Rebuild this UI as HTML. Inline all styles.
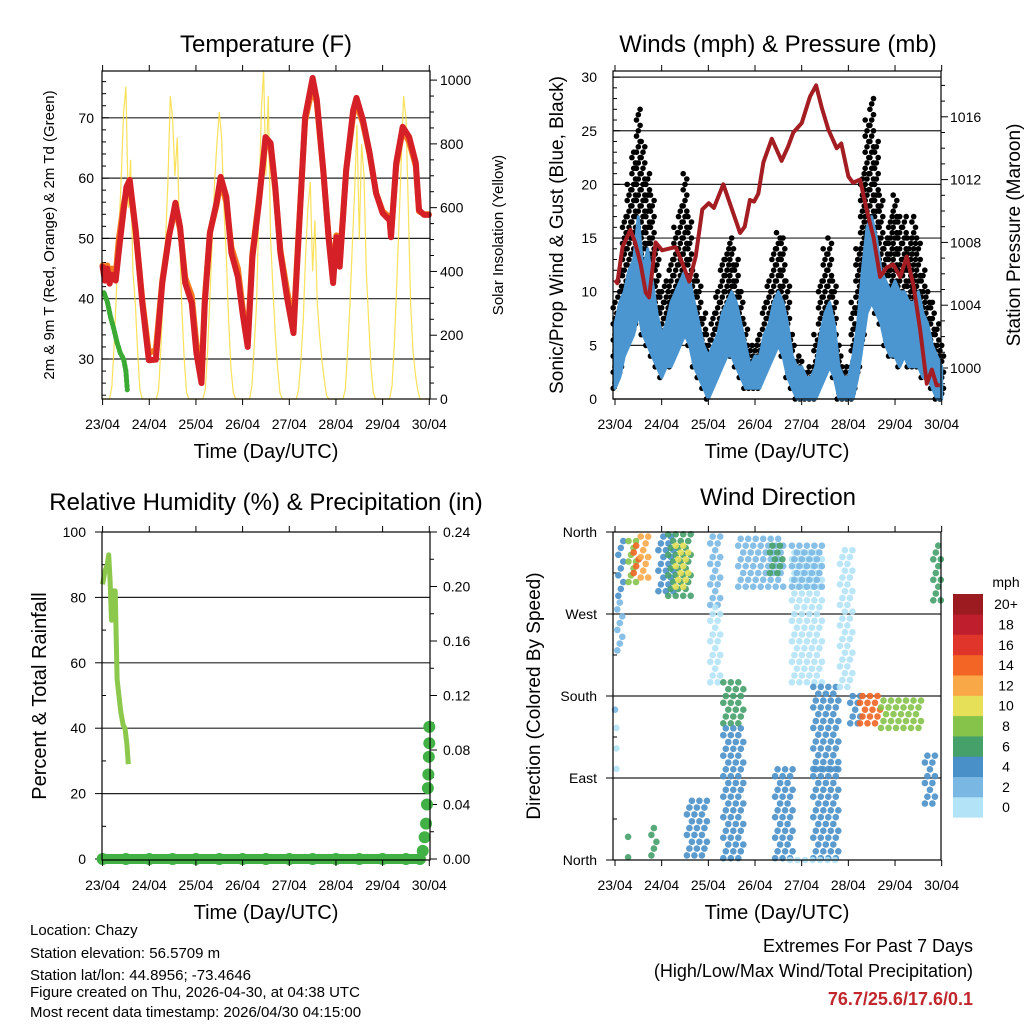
<!DOCTYPE html>
<html><head><meta charset="utf-8"><style>
html,body{margin:0;padding:0;background:#fff;}
svg{display:block;font-family:"Liberation Sans",sans-serif;}
</style></head><body>
<svg id="chart" width="1024" height="1024" viewBox="0 0 1024 1024" xmlns="http://www.w3.org/2000/svg">
<rect width="1024" height="1024" fill="#fff"/>
<g id="g1"></g>
<g id="g2"></g>
<g id="g3"></g>
<g id="g4"></g>
<g font-size="15" fill="#000">
<text x="30" y="935">Location: Chazy</text>
<text x="30" y="958">Station elevation: 56.5709 m</text>
<text x="30" y="980">Station lat/lon: 44.8956; -73.4646</text>
<text x="30" y="997">Figure created on Thu, 2026-04-30, at 04:38 UTC</text>
<text x="30" y="1017">Most recent data timestamp: 2026/04/30 04:15:00</text>
</g>
<g text-anchor="end">
<text x="973" y="952" font-size="18">Extremes For Past 7 Days</text>
<text x="973" y="977" font-size="18">(High/Low/Max Wind/Total Precipitation)</text>
<text x="973" y="1005" font-size="18" font-weight="bold" fill="#c1272d">76.7/25.6/17.6/0.1</text>
</g>
</svg>
<script>
// ---------- DATA ----------
const dayLabels = ["23/04","24/04","25/04","26/04","27/04","28/04","29/04","30/04"];
// Temperature (red, 2m T)
const tempT = [0,0.05,0.1,0.15,0.2,0.28,0.35,0.45,0.51,0.58,0.71,0.85,0.99,1.14,1.28,1.42,1.56,1.66,1.77,1.91,2.01,2.12,2.19,2.3,2.44,2.53,2.65,2.76,2.9,3.0,3.11,3.21,3.35,3.49,3.6,3.7,3.81,3.95,4.09,4.2,4.34,4.45,4.5,4.59,4.73,4.84,4.94,5.01,5.08,5.22,5.37,5.44,5.58,5.72,5.86,6.0,6.15,6.18,6.29,6.43,6.57,6.71,6.78,6.89,6.99];
const tempRed = [45.3,43,45,42.5,44,43,48,54.7,58.5,59.7,51.4,39.3,29.8,29.9,42.6,50.2,55.9,51.9,42.6,39.3,31,26,39.3,50.9,55.9,60.2,56.9,47.6,43.6,37.6,32,46.9,55.9,66.8,65.8,58.5,47.6,40.3,34.3,50.2,70.1,74.6,76.6,73,61.3,50.2,42.6,50.2,45.3,61.3,71.3,73.3,69.6,64.2,57.5,54.2,53,50.2,62.5,68.5,66.8,62.5,54.7,53.9,53.9];
const tempOrange = [45.5,43.5,45.5,43,45,44,50,55.5,58,59,51,39.8,31,31.5,43,50.5,55,51.5,43.5,40.5,32.5,27.5,40,51,55.5,59.5,56,48.5,45,38.5,33,47.5,56.5,66,65,58,48,41.5,35.5,51,69.5,73.5,75,72.5,61,50.5,44,50.5,46,61.5,70.5,72.5,69,64,57.5,54.5,53.5,50.5,62,68,66,62,54.5,54,54];
// Dew point (green)
const dewT = [0.03,0.1,0.17,0.24,0.31,0.38,0.45,0.5,0.53];
const dewVal = [41,39.5,37,35,32.7,31,30,28,24.9];
// Solar insolation (yellow), every 0.05 day
const solar = [
0,0,0,0,40,180,350,520,700,900,980,600,750,400,300,150,30,0,0,0,
0,0,0,0,30,160,330,500,680,950,880,700,820,500,280,120,20,0,0,0,
0,0,0,0,30,150,320,500,680,800,900,820,600,450,250,100,20,0,0,0,
0,0,0,0,40,170,300,600,900,1030,700,950,500,350,200,100,20,0,0,0,
0,0,0,0,30,120,250,450,600,680,400,560,300,200,120,60,10,0,0,0,
0,0,0,0,30,150,300,480,650,860,500,800,700,400,250,100,20,0,0,0,
0,0,0,0,40,170,350,550,750,950,880,600,300,150,80,30,0,0,0,0,0];
// Winds, every 0.1 day
const windLo = [1,2,4,5,6,8,6,5,4,3,2,3,3,4,5,6,5,3,2,1,0,1,2,3,4,4,3,2,1,1,1,1,2,3,4,5,4,2,1,0,0,0,0,0,1,2,3,2,0,0,0,0,2,5,8,9,8,7,5,4,4,3,4,3,3,3,2,2,1,0,0];
const windHi = [7,9,10,12,13,17,12,14,11,8,6,7,9,10,11,12,11,9,7,5,4,5,6,8,9,10,9,7,5,3,4,4,6,7,9,10,9,7,4,3,3,2,2,3,6,8,9,7,3,2,2,4,7,12,16,17,15,12,11,10,11,10,10,9,9,10,8,7,5,4,3];
const gustHi = [9,12,17,20,23,27,24,21,19,14,10,11,13,16,18,21,17,12,11,8,6,8,10,13,14,15,13,10,7,5,5,6,9,11,14,15.5,15,11,6,4,3.5,2.5,3,6,11,14,15,11,5,3,3,9,14,21,26,28,24,19,15,17,19,17,17,15,17,15,12,10,9,7,5];
// Pressure (maroon)
const presT = [0,0.05,0.16,0.33,0.43,0.55,0.66,0.73,0.87,1.01,1.15,1.3,1.44,1.59,1.73,1.87,2.01,2.12,2.32,2.46,2.68,2.78,2.89,2.98,3.07,3.18,3.36,3.57,3.71,3.82,4.0,4.18,4.31,4.43,4.57,4.75,4.85,5.0,5.1,5.25,5.39,5.54,5.68,5.82,5.96,6.11,6.25,6.4,6.54,6.68,6.79,6.89,6.96];
const presVal = [1005.6,1005.4,1007.7,1008.8,1008,1006.6,1004.8,1004.5,1008,1007.5,1007.6,1007.7,1006.7,1005.5,1007.1,1010.1,1010.5,1010.2,1011.7,1010.5,1008.6,1009,1010.7,1010.6,1011.1,1013.1,1014.6,1013.2,1014.1,1015,1015.6,1017.3,1018,1016.6,1015.2,1014,1014.3,1012.2,1011.8,1012,1010.1,1008.3,1005.8,1006.4,1006.6,1005.8,1007.1,1005.2,1002.4,999,999.9,998.9,998.9];
// Relative humidity
const rhT = [0,0.05,0.1,0.13,0.16,0.19,0.23,0.27,0.31,0.35,0.39,0.44,0.48,0.52,0.55];
const rhVal = [84,88,90,93,85,73,82,82,55,50,45,41,40,35,29];
// Precipitation (in)
const precT = [0,0.5,1,1.5,2,2.5,3,3.5,4,4.5,5,5.5,6,6.5,6.8,6.86,6.9,6.93,6.95,6.97,6.98,6.99,7.0,7.0];
const precVal = [0,0,0,0,0,0,0,0,0,0,0,0,0,0,0,0.006,0.016,0.026,0.04,0.052,0.062,0.075,0.085,0.097];
// Wind direction clusters: start day, end day, dir low, dir high, speed
const wdStart = [0.0,0.03,0.07,0.05,0.29,0.4,0.55,0.28,0.78,0.93,1.14,1.3,1.54,2.04,2.04,2.32,2.32,2.64,3.32,3.43,3.79,3.79,4.25,4.25,4.82,5.04,5.25,5.7,6.64,6.82,3.75];
const wdEnd   = [0.04,0.08,0.21,0.2,0.45,0.55,0.75,0.33,0.9,1.28,1.64,1.6,2.0,2.3,2.3,2.75,2.75,3.61,3.61,3.82,4.46,4.46,4.82,4.82,5.11,5.3,5.7,6.6,6.86,7.0,4.8];
const wdLo    = [165,100,290,230,305,315,310,3,5,295,290,300,5,280,195,150,2,300,315,2,195,300,100,2,190,150,150,145,62,285,0];
const wdHi    = [185,150,350,285,355,345,355,28,40,355,358,350,65,355,280,200,150,358,345,100,340,345,190,100,340,180,180,182,120,345,4];
const wdSpeed = [3,1,5,3,9,15,12,6,7,4,7,10,5,2,0,6,4,2,6,4,0,2,5,4,1,4,15,9,4,6,0];
const cbLabels = ["0","2","4","6","8","10","12","14","16","18","20+"];
const cbColors = ["#b3e3f7","#7ab8e3","#4a90c8","#45a06a","#86c34a","#e6df58","#f9a848","#f26524","#e0352b","#bf1e2d","#9b1b20"];

// ---------- HELPERS ----------
const NS = "http://www.w3.org/2000/svg";
function mk(parent, tag, attrs, txt){
  const e = document.createElementNS(NS, tag);
  for (const k in attrs) e.setAttribute(k, attrs[k]);
  if (txt !== undefined) e.textContent = txt;
  parent.appendChild(e); return e;
}
function pts(xs, ys, fx, fy){ return xs.map((t,i)=>fx(t).toFixed(1)+","+fy(ys[i]).toFixed(1)).join(" "); }
function speedColor(s){ let i = Math.floor(s/2); if (i>10) i=10; if(i<0) i=0; return cbColors[i]; }

function frame(g, L, T, R, B, X0){
  const ax = v => X0 + v*46.67;
  for (let d=0; d<8; d++){
    const x = ax(d);
    const tk = mk(g,"line",{x1:x,y1:B,x2:x,y2:B+6,stroke:"#000","stroke-width":1});
    
    
    const tt = mk(g,"line",{x1:x,y1:T,x2:x,y2:T-6,stroke:"#000","stroke-width":1});
    
    
    const lb = mk(g,"text",{x:x,y:B+30,"font-size":14,"text-anchor":"middle"},dayLabels[d]);
    
    
  }
  const xt = mk(g,"text",{x:(L+R)/2,y:B+59,"font-size":20,"text-anchor":"middle"},"Time (Day/UTC)");
  
  
}
function border(g,L,T,R,B){
  const r = mk(g,"rect",{x:L,y:T,width:R-L,height:B-T,fill:"none",stroke:"#000","stroke-width":1.2});
  
  
}
function hgrid(g,L,R,y){
  const l = mk(g,"line",{x1:L,y1:y,x2:R,y2:y,stroke:"#222","stroke-width":1.2});
  
  
}
function ytick(g,x,y,len){
  const l = mk(g,"line",{x1:x,y1:y,x2:x+len,y2:y,stroke:"#000","stroke-width":1});
  
  
}
function ylabel(g,x,y,txt,anchor){
  const t = mk(g,"text",{x:x,y:y+5,"font-size":14,"text-anchor":anchor},txt);
  
  
}
function vtitle(g,x,y,txt,size,name){
  const t = mk(g,"text",{x:x,y:y,"font-size":size,"text-anchor":"middle",transform:`rotate(-90 ${x} ${y})`},txt);
  
  
}
function title(g,x,y,txt,name){
  const t = mk(g,"text",{x:x,y:y,"font-size":24,"text-anchor":"middle"},txt);
  
  
}

// ---------- PANEL 1: TEMPERATURE ----------
(function(){
  const g = document.getElementById("g1");
  const L=102,T=71,R=430,B=399,X0=102.6;
  const sx = t => X0 + t*46.67;
  const sy = v => 359 - (v-30)*6.03;
  const sr = v => 399 - v*0.3189;
  title(g,266,52,"Temperature (F)","temperature-title");
  [30,40,50,60,70].forEach(v=>{ hgrid(g,L,R,sy(v)); ylabel(g,94,sy(v),String(v),"end"); });
  for (let v=24; v<=76; v+=2){ ytick(g,L,sy(v),v%10===0?7:4); }
  for (let v=0; v<=1000; v+=50){ ytick(g,R,sr(v),v%200===0?7:4); }
  [0,200,400,600,800,1000].forEach(v=>ylabel(g,440,sr(v),String(v),"start"));
  const solT = solar.map((_,i)=>i*0.05);
  const sl = mk(g,"polyline",{points:pts(solT,solar,sx,sr),fill:"none",stroke:"#f8dc3c","stroke-width":1.2,"stroke-opacity":0.85});
  
  
  const ol = mk(g,"polyline",{points:pts(tempT,tempOrange,sx,sy),fill:"none",stroke:"#f47a20","stroke-width":6,"stroke-linejoin":"round","stroke-linecap":"round"});
  
  
  const rl = mk(g,"polyline",{points:pts(tempT,tempRed,sx,sy),fill:"none",stroke:"#d62027","stroke-width":6,"stroke-linejoin":"round","stroke-linecap":"round"});
  
  
  const dl = mk(g,"polyline",{points:pts(dewT,dewVal,sx,sy),fill:"none",stroke:"#3aaa35","stroke-width":5,"stroke-dasharray":"3 2","stroke-linecap":"round"});
  
  
  border(g,L,T,R,B);
  frame(g,L,T,R,B,X0);
  vtitle(g,54,235,"2m & 9m T (Red, Orange) & 2m Td (Green)",15,"temperature-y-axis-title");
  vtitle(g,503,235,"Solar Insolation (Yellow)",15,"solar-y-axis-title");
})();

// ---------- PANEL 2: WINDS ----------
(function(){
  const g = document.getElementById("g2");
  const L=613,T=71,R=941,B=399,X0=615;
  const sx = t => X0 + t*46.67;
  const sy = v => 399 - v*10.73;
  const sp = v => 368 - (v-1000)*15.7;
  title(g,778,52,"Winds (mph) & Pressure (mb)","winds-title");
  [0,5,10,15,20,25,30].forEach(v=>{ hgrid(g,L,R,sy(v)); ylabel(g,597,sy(v),String(v),"end"); });
  for (let v=0; v<=30; v++) ytick(g,L,sy(v),v%5===0?7:4);
  for (let v=999; v<=1018; v++) ytick(g,R,sp(v),v%4===0?7:4);
  [1000,1004,1008,1012,1016].forEach(v=>ylabel(g,950,sp(v),String(v),"start"));
  const wt = windLo.map((_,i)=>i*0.1);
  // gust dots
  wt.forEach((t,i)=>{
    let k = 0;
    for (let v=windLo[i]; v<=gustHi[i]; v+=0.5){
      const x = sx(t) + ((k%3)-1)*1.8;
      const c = mk(g,"circle",{cx:x.toFixed(1),cy:sy(v).toFixed(1),r:2.8,fill:"#000"});
      
      
      k++;
    }
  });
  const band = pts(wt,windHi,sx,sy)+" "+pts(wt.slice().reverse(),windLo.slice().reverse(),sx,sy);
  const bp = mk(g,"polygon",{points:band,fill:"#4b96d1",stroke:"#4b96d1","stroke-width":3,"stroke-linejoin":"round"});
  
  
  const pl = mk(g,"polyline",{points:pts(presT,presVal,sx,sp),fill:"none",stroke:"#a31d22","stroke-width":4,"stroke-linejoin":"round"});
  
  
  border(g,L,T,R,B);
  frame(g,L,T,R,B,X0);
  vtitle(g,563,235,"Sonic/Prop Wind & Gust (Blue, Black)",19,"wind-y-axis-title");
  vtitle(g,1020,235,"Station Pressure (Maroon)",19,"pressure-y-axis-title");
})();

// ---------- PANEL 3: HUMIDITY ----------
(function(){
  const g = document.getElementById("g3");
  const L=102,T=532,R=430,B=860,X0=102.6;
  const sx = t => X0 + t*46.67;
  const sy = v => 859 - v*3.27;
  const sq = v => 859 - v/0.24*327;
  title(g,266,510,"Relative Humidity (%) & Precipitation (in)","humidity-title");
  [20,40,60,80].forEach(v=>hgrid(g,L,R,sy(v)));
  [0,20,40,60,80,100].forEach(v=>{ ylabel(g,86,sy(v),String(v),"end"); ytick(g,L-7,sy(v),7); });
  for (let v=10; v<100; v+=20) ytick(g,L,sy(v),4);
  for (let v=0; v<=0.24; v+=0.02) ytick(g,R,sq(v),Math.round(v*100)%4===0?7:4);
  ["0.00","0.04","0.08","0.12","0.16","0.20","0.24"].forEach(s=>ylabel(g,443,sq(parseFloat(s)),s,"start"));
  const rl = mk(g,"polyline",{points:pts(rhT,rhVal,sx,sy),fill:"none",stroke:"#8cc84b","stroke-width":5,"stroke-linejoin":"round"});
  
  
  const zl = mk(g,"line",{x1:sx(precT[0]),y1:sq(0),x2:sx(precT[14]),y2:sq(0),stroke:"#41b045","stroke-width":10,"stroke-linecap":"round"});
  
  
  precT.forEach((t,i)=>{
    const c = mk(g,"circle",{cx:sx(t),cy:sq(precVal[i]),r:6,fill:"#41b045"});
    
    
  });
  border(g,L,T,R,B);
  frame(g,L,T,R,B,X0);
  vtitle(g,46,696,"Percent & Total Rainfall",20,"humidity-y-axis-title");
})();

// ---------- PANEL 4: WIND DIRECTION ----------
(function(){
  const g = document.getElementById("g4");
  const L=613,T=532,R=941,B=860,X0=615;
  const sx = t => X0 + t*46.67;
  const sy = d => 860 - d/360*328;
  title(g,778,505,"Wind Direction","wind-direction-title");
  const dn = ["North","East","South","West","North"];
  [0,90,180,270,360].forEach((d,i)=>{ if(d>0&&d<360) hgrid(g,L,R,sy(d)); ylabel(g,597,sy(d),dn[i],"end"); ytick(g,L-7,sy(d),7); });
  for (let d=45; d<360; d+=90) ytick(g,L,sy(d),4);
  wdStart.forEach((s,i)=>{
    const col = speedColor(wdSpeed[i]);
    let row = 0;
    for (let d=wdLo[i]; d<=wdHi[i]; d+=7.5){
      const off = (row%3)*2.5;
      for (let x=sx(s)+off; x<=sx(wdEnd[i])+0.1; x+=7.5){
        const c = mk(g,"circle",{cx:x.toFixed(1),cy:sy(d).toFixed(1),r:3.3,fill:col,"fill-opacity":0.9});
        
        
      }
      row++;
    }
  });
  border(g,L,T,R,B);
  frame(g,L,T,R,B,X0);
  vtitle(g,540,696,"Direction (Colored By Speed)",19,"direction-y-axis-title");
  // colorbar
  const cb = mk(g,"g",{});
  
  
  const h = 20.3;
  cbColors.forEach((c,i)=>{
    const y = 594 + (10-i)*h;
    const r = mk(cb,"rect",{x:953,y:y,width:30,height:h+0.3,fill:c});
    
    
    const t = mk(cb,"text",{x:1006,y:y+h/2+5,"font-size":14,"text-anchor":"middle"},cbLabels[i]);
    
    
  });
  const u = mk(cb,"text",{x:1006,y:587,"font-size":14,"text-anchor":"middle"},"mph");
  
  
})();
</script>
</body></html>
